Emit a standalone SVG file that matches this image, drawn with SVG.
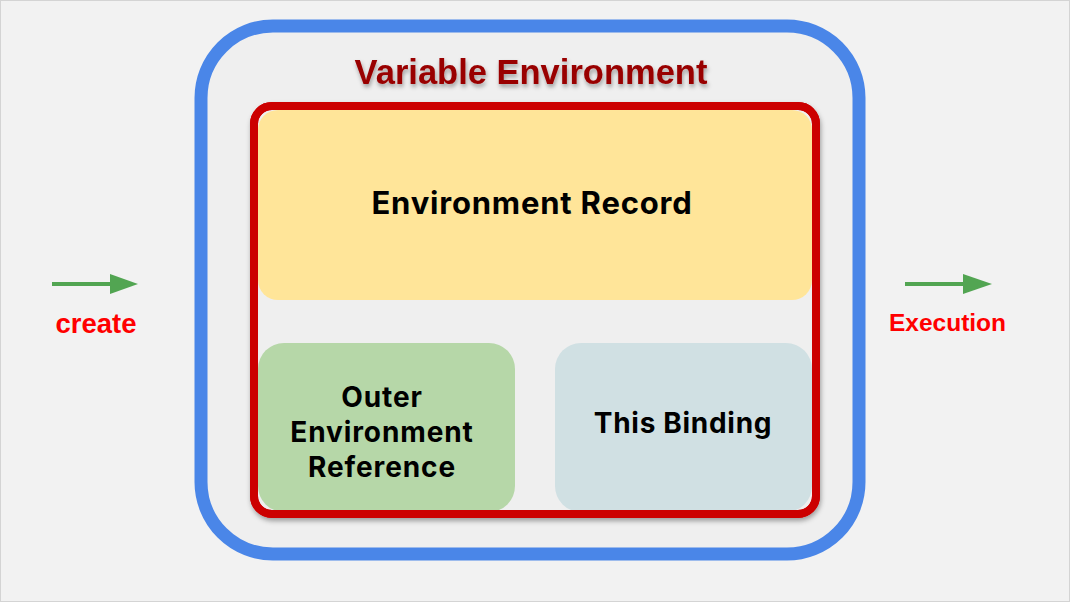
<svg xmlns="http://www.w3.org/2000/svg" width="1070" height="602" viewBox="0 0 1070 602">
<defs>
<style>
.lbl{font-family:Inter,Roboto,"Liberation Sans",sans-serif;font-weight:bold;fill:#000;text-anchor:middle}
.red{font-family:"Liberation Sans",Arial,sans-serif;font-weight:bold;fill:#ff0000;text-anchor:middle}
.arrow{stroke:#52a552;stroke-width:4;fill:none}
</style>
<filter id="sh" x="-10%" y="-10%" width="120%" height="130%">
<feDropShadow dx="1" dy="3" stdDeviation="2.5" flood-color="#000" flood-opacity="0.35"/>
</filter>
<filter id="tsh" x="-10%" y="-30%" width="120%" height="170%">
<feDropShadow dx="1" dy="3" stdDeviation="2" flood-color="#000" flood-opacity="0.35"/>
</filter>
</defs>
<rect x="0.5" y="0.5" width="1069" height="601" fill="#f2f2f2" stroke="#d4d4d4" stroke-width="1"/>
<g id="variable-environment">
<rect x="201" y="26" width="658" height="528" rx="72" fill="#efefef" stroke="#4a86e8" stroke-width="13"/>
<text x="531" y="84" font-family="'Liberation Sans',Arial,sans-serif" font-weight="bold" font-size="34.5" fill="#990000" text-anchor="middle" filter="url(#tsh)">Variable Environment</text>
</g>
<g id="red-frame">
<rect x="254" y="106" width="562" height="408" rx="18" fill="#efefef" stroke="#cc0000" stroke-width="8" filter="url(#sh)"/>
</g>
<g id="environment-record">
<rect x="258" y="110" width="554" height="190" rx="20" fill="#ffe599"/>
<text class="lbl" x="532" y="214" font-size="31" letter-spacing="0.8">Environment Record</text>
</g>
<g id="outer-environment-reference">
<rect x="258" y="343" width="257" height="169" rx="26" fill="#b6d7a8"/>
<text class="lbl" x="382" y="407" font-size="28" letter-spacing="0.9">Outer</text>
<text class="lbl" x="382" y="442" font-size="28" letter-spacing="0.9">Environment</text>
<text class="lbl" x="382" y="477" font-size="28" letter-spacing="0.9">Reference</text>
</g>
<g id="this-binding">
<rect x="555" y="343" width="257" height="169" rx="26" fill="#d0e0e3"/>
<text class="lbl" x="683" y="433" font-size="28" letter-spacing="0.7">This Binding</text>
</g>
<rect x="254" y="106" width="562" height="408" rx="18" fill="none" stroke="#cc0000" stroke-width="8"/>
<g id="connectors">
<line class="arrow" x1="52" y1="284" x2="112" y2="284"/>
<polygon points="110,274 138,284 110,294" fill="#52a552"/>
<line class="arrow" x1="905" y1="284" x2="965" y2="284"/>
<polygon points="963,274 992,284 963,294" fill="#52a552"/>
</g>
<g id="create">
<text class="red" x="96" y="333" font-size="27.5">create</text>
</g>
<g id="execution">
<text class="red" x="947.5" y="331" font-size="24.5">Execution</text>
</g>
</svg>
